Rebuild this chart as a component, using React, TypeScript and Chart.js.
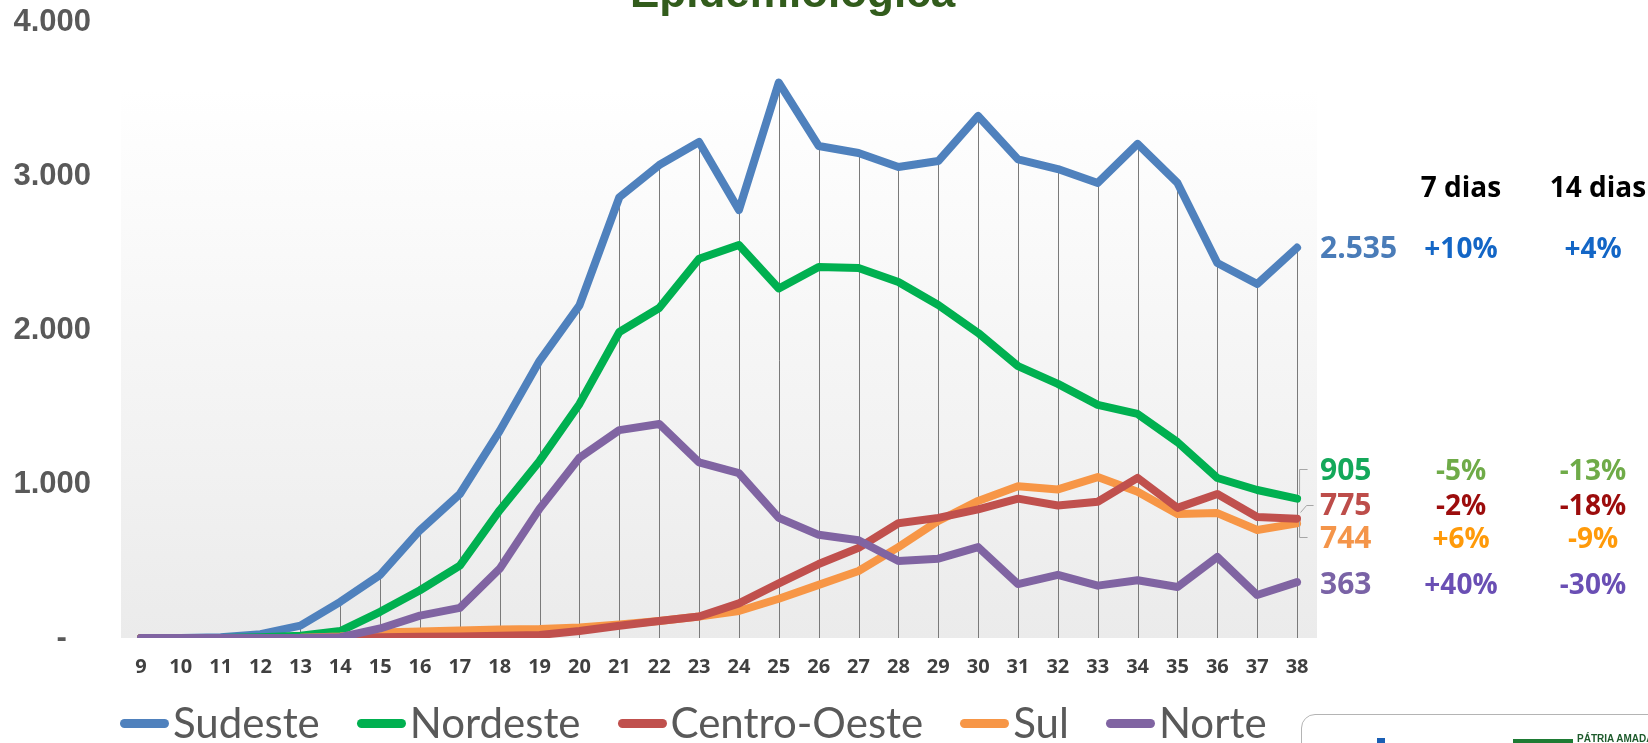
import React, { useEffect, useRef } from 'react';
import { Chart, registerables } from 'chart.js';

Chart.register(...registerables);

// ---- data ----
const weeks = ['9', '10', '11', '12', '13', '14', '15', '16', '17', '18', '19', '20', '21', '22', '23', '24', '25', '26', '27', '28', '29', '30', '31', '32', '33', '34', '35', '36', '37', '38'];

const sudeste = [0, 0, 5, 25, 80, 235, 410, 700, 935, 1345, 1800, 2160, 2862, 3071, 3221, 2779, 3607, 3195, 3149, 3058, 3097, 3390, 3108, 3045, 2955, 3208, 2955, 2435, 2299, 2535];
const nordeste = [0, 0, 0, 5, 15, 45, 170, 310, 470, 830, 1150, 1520, 1987, 2143, 2463, 2552, 2270, 2409, 2403, 2312, 2162, 1981, 1765, 1650, 1514, 1455, 1272, 1039, 961, 905];
const centroOeste = [0, 0, 0, 0, 0, 2, 5, 8, 10, 15, 20, 45, 80, 110, 140, 225, 355, 480, 585, 745, 780, 835, 905, 860, 885, 1040, 845, 935, 786, 775];
const sul = [0, 0, 0, 0, 2, 10, 35, 42, 48, 55, 58, 68, 88, 110, 140, 175, 255, 345, 435, 590, 760, 890, 985, 965, 1045, 950, 805, 811, 701, 744];
const norte = [0, 0, 0, 0, 0, 5, 62, 145, 196, 450, 840, 1170, 1350, 1390, 1140, 1070, 780, 670, 635, 500, 515, 590, 350, 410, 340, 375, 331, 526, 279, 363];

const seriesNames = ['Sudeste', 'Nordeste', 'Centro-Oeste', 'Sul', 'Norte'];
const seriesData = [sudeste, nordeste, centroOeste, sul, norte];
const seriesColors = ['#4f81bd', '#00b050', '#c0504d', '#f79646', '#8064a2'];
const drawOrder = [4, 3, 1, 2, 0];

const yTicks = [0, 1000, 2000, 3000, 4000];

const change7 = ['+10%', '-5%', '-2%', '+6%', '+40%'];
const change14 = ['+4%', '-13%', '-18%', '-9%', '-30%'];
const endLabelColors = ['#4a7cb8', '#14a85a', '#bd4d4a', '#f4954a', '#7a63a6'];
const changeColors = ['#1366c6', '#6fab48', '#9c0c0c', '#ff9a0a', '#6a4fb4'];
const headers = ['7 dias', '14 dias'];

// ---- layout constants ----
const W = 1648;
const H = 743;
const rowY = [248, 470, 505, 538, 584];

const fmt = (v: number) => String(v).replace(/\B(?=(\d{3})+(?!\d))/g, '.');

const bgDropPlugin = {
  id: 'bgDrop',
  beforeDatasetsDraw(chart: any) {
    const { ctx, chartArea, scales } = chart;
    const xs = scales.x;
    const ys = scales.y;
    const top = 89;
    ctx.save();
    const g = ctx.createLinearGradient(0, top, 0, chartArea.bottom);
    g.addColorStop(0, '#ffffff');
    g.addColorStop(1, '#ebebeb');
    ctx.fillStyle = g;
    ctx.fillRect(chartArea.left, top, chartArea.right - chartArea.left, chartArea.bottom - top);
    ctx.strokeStyle = '#7a7a7a';
    ctx.lineWidth = 1;
    weeks.forEach((_, i) => {
      const mx = Math.max(...seriesData.map((s) => s[i]));
      const px = Math.round(xs.getPixelForValue(i)) + 0.5;
      ctx.beginPath();
      ctx.moveTo(px, ys.getPixelForValue(mx));
      ctx.lineTo(px, ys.getPixelForValue(0));
      ctx.stroke();
    });
    ctx.restore();
  },
  afterDatasetsDraw(chart: any) {
    const { ctx, scales } = chart;
    const x0 = scales.x.getPixelForValue(weeks.length - 1);
    ctx.save();
    ctx.strokeStyle = '#a6a6a6';
    ctx.lineWidth = 1;
    const seg = (pts: number[][]) => {
      ctx.beginPath();
      ctx.moveTo(pts[0][0] + 0.5, pts[0][1] + 0.5);
      for (let i = 1; i < pts.length; i++) ctx.lineTo(pts[i][0] + 0.5, pts[i][1] + 0.5);
      ctx.stroke();
    };
    seg([[x0 + 10, 469], [x0 + 2, 469], [x0 + 2, 494]]);
    seg([[x0 + 16, 505], [x0 + 9, 505], [x0 + 3, 512]]);
    seg([[x0 + 2, 521], [x0 + 2, 537], [x0 + 10, 537]]);
    ctx.restore();
  },
};

function ChartCanvas() {
  const ref = useRef<HTMLCanvasElement | null>(null);
  useEffect(() => {
    if (!ref.current) return;
    const chart = new Chart(ref.current, {
      type: 'line',
      data: {
        labels: weeks,
        datasets: seriesNames.map((name, i) => ({
          label: name,
          data: seriesData[i],
          borderColor: seriesColors[i],
          backgroundColor: seriesColors[i],
          borderWidth: 8,
          borderCapStyle: 'round',
          borderJoinStyle: 'round',
          pointRadius: 0,
          tension: 0,
          fill: false,
          order: drawOrder[i],
        })),
      },
      options: {
        responsive: false,
        animation: false,
        devicePixelRatio: 1,
        layout: { padding: { left: 0, right: W - 1317, top: 22, bottom: 0 } },
        plugins: { legend: { display: false }, tooltip: { enabled: false }, title: { display: false } },
        scales: {
          x: {
            type: 'category',
            offset: true,
            grid: { display: false },
            border: { display: false },
            ticks: {
              autoSkip: false,
              maxRotation: 0,
              padding: 9,
              color: '#404040',
              font: { family: '"Open Sans", sans-serif', size: 20, weight: 'bold' },
            },
            afterFit: (s: any) => {
              s.height = H - 638;
              s.paddingLeft = 0;
              s.paddingRight = 0;
            },
          },
          y: {
            min: 0,
            max: 4000,
            grid: { display: false },
            border: { display: false },
            afterBuildTicks: (s: any) => {
              s.ticks = yTicks.map((v) => ({ value: v }));
            },
            ticks: {
              padding: 22,
              color: '#595959',
              font: { family: '"Liberation Sans", Arial, sans-serif', size: 31, weight: 'bold' },
              callback: (v: any) => (Number(v) === 0 ? '-\u2002 ' : fmt(Number(v))),
            },
            afterFit: (s: any) => {
              s.width = 121;
              s.paddingTop = 0;
              s.paddingBottom = 0;
            },
          },
        },
      } as any,
      plugins: [bgDropPlugin],
    });
    return () => chart.destroy();
  }, []);
  return <canvas ref={ref} width={W} height={H} style={{ display: 'block', position: 'absolute', left: 0, top: 0 }} />;
}

function Txt(props: { x: number; y: number; text: string; color: string; size: number; align: 'left' | 'center'; weight?: number }) {
  const { x, y, text, color, size, align, weight } = props;
  const top = y - size * 0.531;
  const style: React.CSSProperties = {
    position: 'absolute',
    top,
    fontFamily: '"Open Sans", sans-serif',
    fontWeight: weight ?? 700,
    fontSize: size,
    lineHeight: 1,
    color,
    whiteSpace: 'nowrap',
  };
  if (align === 'left') style.left = x;
  else {
    style.left = x - 200;
    style.width = 400;
    style.textAlign = 'center';
  }
  return <div style={style}>{text}</div>;
}

export default function App() {
  return (
    <div style={{ position: 'fixed', left: 0, top: 0, width: W, height: H, overflow: 'hidden', background: '#ffffff' }}>
      <ChartCanvas />
      <div
        style={{
          position: 'absolute',
          left: 630,
          top: -30,
          fontFamily: '"Liberation Sans", Arial, sans-serif',
          fontWeight: 700,
          fontSize: 44,
          lineHeight: '44px',
          color: '#325c1c',
          whiteSpace: 'nowrap',
        }}
      >
        Epidemiológica
      </div>
      <Txt x={1461} y={187} text={headers[0]} color="#000000" size={28} align="center" />
      <Txt x={1598} y={187} text={headers[1]} color="#000000" size={28} align="center" />
      {seriesData.map((s, i) => (
        <React.Fragment key={i}>
          <Txt x={1320} y={rowY[i]} text={fmt(s[s.length - 1])} color={endLabelColors[i]} size={30} align="left" weight={700} />
          <Txt x={1461} y={rowY[i]} text={change7[i]} color={changeColors[i]} size={28} align="center" />
          <Txt x={1593} y={rowY[i]} text={change14[i]} color={changeColors[i]} size={28} align="center" />
        </React.Fragment>
      ))}
      <div
        style={{
          position: 'absolute',
          left: 120,
          top: 701,
          height: 42,
          display: 'flex',
          alignItems: 'center',
          gap: 37,
          fontFamily: 'Lato, sans-serif',
          fontSize: 42,
          lineHeight: 1,
          color: '#595959',
          whiteSpace: 'nowrap',
        }}
      >
        {seriesNames.map((n, i) => (
          <div key={n} style={{ display: 'flex', alignItems: 'center', gap: 4 }}>
            <div style={{ width: 49, height: 9, borderRadius: 5, background: seriesColors[i], marginTop: 3 }} />
            <span>{n}</span>
          </div>
        ))}
      </div>
      <div
        style={{
          position: 'absolute',
          left: 1301,
          top: 714,
          width: 420,
          height: 80,
          border: '1px solid #b4b4b4',
          borderRadius: 14,
          background: '#ffffff',
        }}
      >
        <div style={{ position: 'absolute', left: 75, top: 23, width: 8, height: 8, background: '#1a5fb4' }} />
        <div style={{ position: 'absolute', left: 211, top: 24, width: 60, height: 5, background: '#1e7b34' }} />
        <div
          style={{
            position: 'absolute',
            left: 275,
            top: 18,
            fontFamily: '"Liberation Sans", Arial, sans-serif',
            fontWeight: 700,
            fontSize: 10,
            color: '#1e5b2c',
            whiteSpace: 'nowrap',
          }}
        >
          PÁTRIA AMADA
        </div>
      </div>
    </div>
  );
}
